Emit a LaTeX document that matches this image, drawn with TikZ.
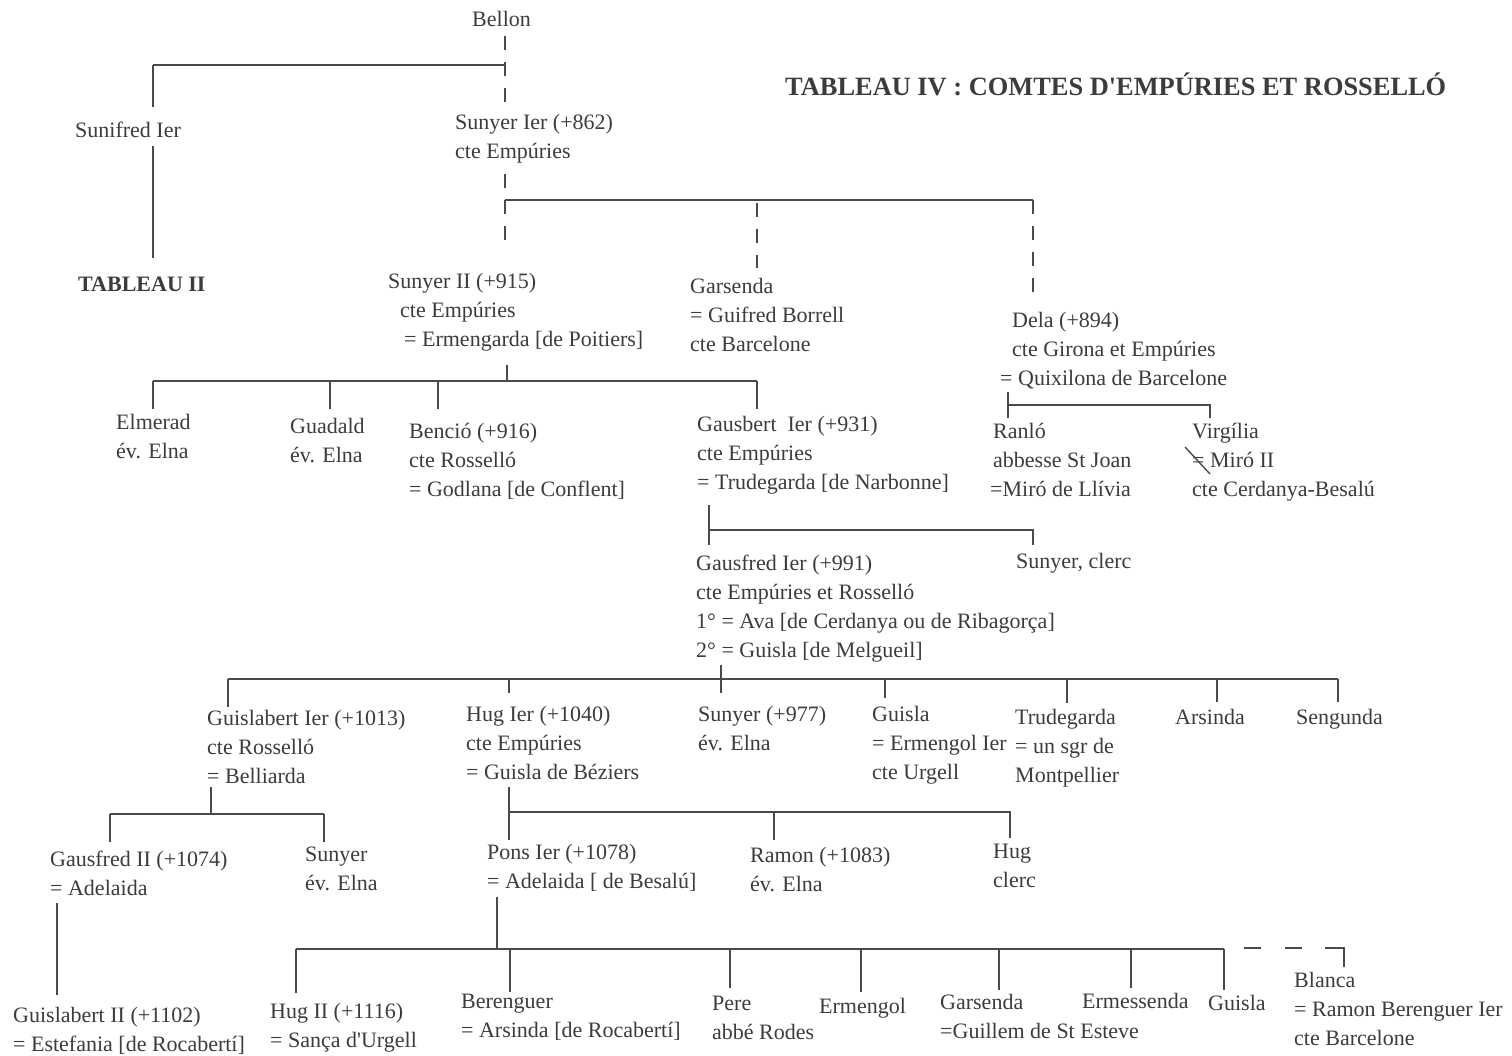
\documentclass[tikz,border=0pt]{standalone}
\usepackage{fontspec}
\setmainfont{Liberation Serif}[Ligatures=TeXOff]
\definecolor{ink}{HTML}{3C3C3C}
\definecolor{lineink}{HTML}{4A4A4A}
\newcommand\gfont{\fontsize{22}{29}\selectfont}
\newcommand\tfont{\fontsize{26.4}{30}\selectfont\bfseries}
\newcommand\bfont{\fontsize{22}{29}\selectfont\bfseries}
\begin{document}
\begin{tikzpicture}[x=1pt,y=-1pt,
  pers/.style={anchor=north west, inner sep=0pt, align=left, font=\gfont, text=ink, execute at begin node=\strut, yshift=20.3pt},
  mpers/.style={pers, yshift=-4.3pt},
  ttl/.style={anchor=base west, inner sep=0pt, font=\tfont, text=ink},
  tb/.style={anchor=base west, inner sep=0pt, font=\bfont, text=ink},
  ln/.style={draw=lineink, line width=1.6pt},
  dln/.style={ln, dash pattern=on 14pt off 12pt}]
\fill[white] (0,0) rectangle (1512,1056);
\useasboundingbox (0,0) rectangle (1512,1056);

% title
\node[ttl] (title) at (785,96) {TABLEAU IV : COMTES D'EMPÚRIES ET ROSSELLÓ};

% people
\node[pers] (bellon) at (472,26) {Bellon};
\node[pers] (sunifred) at (75,137) {Sunifred Ier};
\node[tb] (tab2) at (78,292) {TABLEAU II};
\node[mpers] (sunyer1) at (455,130) {Sunyer Ier (+862)\\cte Empúries};
\node[mpers] (sunyer2) at (388,289) {Sunyer II (+915)\\\hspace*{12pt}cte Empúries\\\hspace*{16pt}= Ermengarda [de Poitiers]};
\node[mpers] (garsenda1) at (690,294) {Garsenda\\= Guifred Borrell\\cte Barcelone};
\node[mpers] (dela) at (1000,328) {\hspace*{12pt}Dela (+894)\\\hspace*{12pt}cte Girona et Empúries\\= Quixilona de Barcelone};
\node[mpers] (elmerad) at (116,430) {Elmerad\\év. Elna};
\node[mpers] (guadald) at (290,434) {Guadald\\év. Elna};
\node[mpers] (bencio) at (409,439) {Benció (+916)\\cte Rosselló\\= Godlana [de Conflent]};
\node[mpers] (gausbert) at (697,432) {Gausbert\ \ Ier (+931)\\cte Empúries\\= Trudegarda [de Narbonne]};
\node[mpers] (ranlo) at (990,439) {\hspace*{3pt}Ranló\\\hspace*{3pt}abbesse St Joan\\=Miró de Llívia};
\node[mpers] (virgilia) at (1192,439) {Virgília\\= Miró II\\cte Cerdanya-Besalú};
\node[mpers] (gausfred1) at (696,571) {Gausfred Ier (+991)\\cte Empúries et Rosselló\\1° = Ava [de Cerdanya ou de Ribagorça]\\2° = Guisla [de Melgueil]};
\node[pers] (sunyerclerc) at (1016,568) {Sunyer, clerc};
\node[mpers] (guislabert1) at (207,726) {Guislabert Ier (+1013)\\cte Rosselló\\= Belliarda};
\node[mpers] (hug1) at (466,722) {Hug Ier (+1040)\\cte Empúries\\= Guisla de Béziers};
\node[mpers] (sunyer977) at (698,722) {Sunyer (+977)\\év. Elna};
\node[mpers] (guisla1) at (872,722) {Guisla\\= Ermengol Ier\\cte Urgell};
\node[mpers] (trudegarda) at (1015,725) {Trudegarda\\= un sgr de\\Montpellier};
\node[pers] (arsinda) at (1175,724) {Arsinda};
\node[pers] (sengunda) at (1296,724) {Sengunda};
\node[mpers] (gausfred2) at (50,867) {Gausfred II (+1074)\\= Adelaida};
\node[mpers] (sunyer3) at (305,863) {Sunyer\\év. Elna};
\node[mpers] (pons) at (487,860) {Pons Ier (+1078)\\= Adelaida [ de Besalú]};
\node[mpers] (ramon) at (750,863) {Ramon (+1083)\\év. Elna};
\node[mpers] (hugclerc) at (993,860) {Hug\\clerc};
\node[mpers] (guislabert2) at (13,1023) {Guislabert II (+1102)\\= Estefania [de Rocabertí]};
\node[mpers] (hug2) at (270,1019) {Hug II (+1116)\\= Sança d'Urgell};
\node[mpers] (berenguer) at (461,1010) {Berenguer\\= Arsinda [de Rocabertí]};
\node[mpers] (pere) at (712,1012) {Pere\\abbé Rodes};
\node[pers] (ermengol) at (819,1013) {Ermengol};
\node[mpers] (garsenda2) at (940,1010) {Garsenda\\=Guillem de St Esteve};
\node[pers] (ermessenda) at (1082,1008) {Ermessenda};
\node[pers] (guisla2) at (1208,1010) {Guisla};
\node[mpers] (blanca) at (1294,988) {Blanca\\= Ramon Berenguer Ier\\cte Barcelone};

% strike mark on Virgilia's "="
\draw[ln, line width=1.4pt] (1185,447) -- (1210,474);

% Bellon -> children
\coordinate (bA) at (153,65);
\coordinate (bB) at (505,65);
\draw[dln] (505,36) -- (505,106);
\draw[ln] (bA) -- (bB);
\draw[ln] (bA) -- (153,107);
\draw[ln] (153,146) -- (153,258);

% Sunyer Ier -> children
\coordinate (s1A) at (505,200);
\coordinate (s1B) at (1033,200);
\draw[dln] (505,174) -- (s1A);
\draw[ln] (s1A) -- (s1B);
\draw[dln] (s1A) -- (505,244);
\draw[dln] (757,203) -- (757,268);
\draw[dln] (s1B) -- (1033,302);

% Sunyer II -> children
\coordinate (s2A) at (153,381);
\coordinate (s2B) at (757,381);
\draw[ln] (507,365) -- (507,381);
\draw[ln] (s2A) -- (s2B);
\draw[ln] (s2A) -- (153,409);
\draw[ln] (330,381) -- (330,409);
\draw[ln] (438,381) -- (438,409);
\draw[ln] (s2B) -- (757,409);

% Dela -> children
\coordinate (dA) at (1008,405);
\coordinate (dB) at (1210,405);
\draw[ln] (1008,392) -- (1008,418);
\draw[ln] (dA) -- (dB) -- (1210,418);

% Gausbert -> children
\coordinate (gA) at (709,530);
\coordinate (gB) at (1033,530);
\draw[ln] (709,505) -- (709,545);
\draw[ln] (gA) -- (gB) -- (1033,545);

% Gausfred Ier -> children
\coordinate (fA) at (228,679);
\coordinate (fB) at (1338,679);
\draw[ln] (721,665) -- (721,693);
\draw[ln] (fA) -- (fB);
\draw[ln] (fA) -- (228,707);
\draw[ln] (509,679) -- (509,693);
\draw[ln] (885,679) -- (885,698);
\draw[ln] (1067,679) -- (1067,703);
\draw[ln] (1217,679) -- (1217,702);
\draw[ln] (fB) -- (1338,702);

% Guislabert Ier -> children
\coordinate (glA) at (110,814);
\coordinate (glB) at (324,814);
\draw[ln] (211,787) -- (211,814);
\draw[ln] (glA) -- (glB);
\draw[ln] (glA) -- (110,842);
\draw[ln] (glB) -- (324,842);

% Gausfred II -> Guislabert II
\draw[ln] (57,903) -- (57,995);

% Hug Ier -> children
\coordinate (hA) at (509,812);
\coordinate (hB) at (1010,812);
\draw[ln] (509,787) -- (509,840);
\draw[ln] (hA) -- (hB) -- (1010,838);
\draw[ln] (774,812) -- (774,840);

% Pons -> children
\coordinate (pA) at (296,949);
\coordinate (pB) at (1224,949);
\draw[ln] (497,897) -- (497,949);
\draw[ln] (pA) -- (pB);
\draw[ln] (pA) -- (296,993);
\draw[ln] (510,949) -- (510,992);
\draw[ln] (730,949) -- (730,988);
\draw[ln] (861,949) -- (861,992);
\draw[ln] (999,949) -- (999,990);
\draw[ln] (1131,949) -- (1131,988);
\draw[ln] (pB) -- (1224,990);
% dashed link to Blanca
\draw[ln] (1244,948) -- (1261,948);
\draw[ln] (1285,948) -- (1302,948);
\draw[ln] (1325,948) -- (1344,948) -- (1344,967);
\end{tikzpicture}
\end{document}
